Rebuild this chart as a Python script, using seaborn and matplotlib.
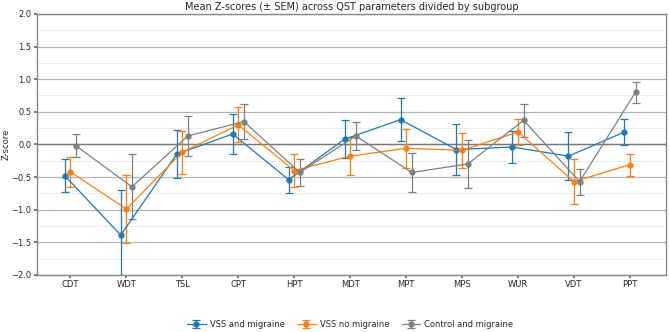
import numpy as np
import pandas as pd
import matplotlib
matplotlib.use("Agg")
import matplotlib.pyplot as plt
import seaborn as sns
from matplotlib.ticker import MultipleLocator

# QST parameters on the x axis
params = ["CDT", "WDT", "TSL", "CPT", "HPT", "MDT", "MPT", "MPS", "WUR", "VDT", "PPT"]

# mean z-scores and SEM per subgroup
vss_mig_mean = [-0.48, -1.39, -0.15, 0.16, -0.54, 0.08, 0.38, -0.08, -0.04, -0.18, 0.19]
vss_mig_sem = [0.25, 0.69, 0.37, 0.31, 0.20, 0.29, 0.33, 0.39, 0.24, 0.37, 0.20]

vss_nomig_mean = [-0.42, -0.99, -0.12, 0.30, -0.40, -0.18, -0.06, -0.09, 0.19, -0.57, -0.31]
vss_nomig_sem = [0.23, 0.52, 0.33, 0.27, 0.26, 0.29, 0.30, 0.27, 0.20, 0.35, 0.17]

ctrl_mig_mean = [-0.02, -0.65, 0.13, 0.35, -0.43, 0.13, -0.43, -0.30, 0.37, -0.57, 0.80]
ctrl_mig_sem = [0.18, 0.50, 0.30, 0.27, 0.20, 0.21, 0.30, 0.37, 0.25, 0.20, 0.16]

groups = ["VSS and migraine", "VSS no migraine", "Control and migraine"]

# long table
df = pd.DataFrame({
    "param": params * 3,
    "group": np.repeat(groups, len(params)),
    "mean": vss_mig_mean + vss_nomig_mean + ctrl_mig_mean,
    "sem": vss_mig_sem + vss_nomig_sem + ctrl_mig_sem,
})

sns.set_theme(style="white")
plt.rcParams["font.family"] = ["DejaVu Sans"]

fig, ax = plt.subplots(figsize=(6.69, 3.32), dpi=100)
fig.subplots_adjust(left=0.055, right=0.996, bottom=0.172, top=0.958)

colors = ["#1f77b4", "#ff7f0e", "#7f7f7f"]
offsets = [-0.1, 0.0, 0.1]
x = np.arange(len(params))

for g, c, off in zip(groups, colors, offsets):
    sub = df[df["group"] == g]
    ax.errorbar(x + off, sub["mean"], yerr=sub["sem"], fmt="-o", color=c,
                ms=3.5, lw=0.9, elinewidth=0.9, capsize=3, capthick=0.9,
                label=g, zorder=3)

ax.axhline(0, color="#777777", lw=1, zorder=1)

ax.set_xticks(x)
ax.set_xticklabels(params)
ax.set_xlim(-0.6, 10.65)
ax.set_ylim(-2.0, 2.0)
ax.yaxis.set_major_locator(MultipleLocator(0.5))
ax.yaxis.set_minor_locator(MultipleLocator(0.25))
ax.grid(axis="y", which="major", color="#b5b5b5", lw=0.9)
ax.grid(axis="y", which="minor", color="#ececec", lw=0.7)
ax.set_axisbelow(True)
for s in ax.spines.values():
    s.set_color("#888888")
    s.set_linewidth(1)

ax.tick_params(axis="both", labelsize=6, length=2, pad=2, color="#666666", left=True, bottom=True)
ax.tick_params(axis="y", which="minor", length=0)
ax.set_ylabel("Z-score", fontsize=6)
ax.yaxis.set_label_coords(-0.042, 0.5)
ax.set_title("Mean Z-scores (± SEM) across QST parameters divided by subgroup", fontsize=7, pad=3)

ax.legend(loc="upper center", bbox_to_anchor=(0.498, -0.145), ncol=3, frameon=False,
          fontsize=6, columnspacing=1.5, handlelength=2.2, handletextpad=0.5)

plt.savefig("out.png", dpi=100)
